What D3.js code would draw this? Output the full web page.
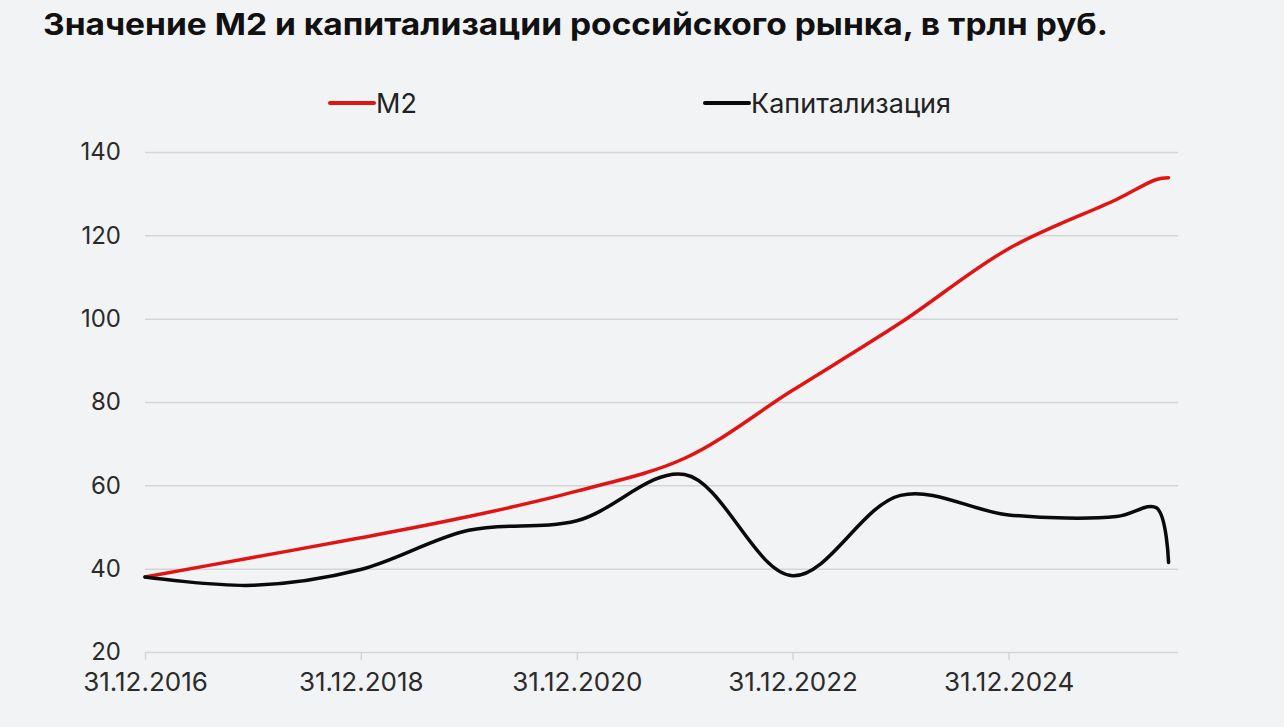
<!DOCTYPE html>
<html>
<head>
<meta charset="utf-8">
<script src="https://cdn.jsdelivr.net/npm/d3@7"></script>
<style>
  html, body { margin: 0; padding: 0; background: #f2f3f5; }
  svg { display: block; font-family: Inter, "Noto Sans", sans-serif; }
</style>
</head>
<body>
<svg id="chart" width="1284" height="727"></svg>
<script>
// year-end points plus two extra points in 2026
var dates = ["2016-12-31", "2017-12-31", "2018-12-31", "2019-12-31", "2020-12-31",
             "2021-12-31", "2022-12-31", "2023-12-31", "2024-12-31", "2025-12-31",
             "2026-05-15", "2026-06-25"];
var m2  = [38, 42.7, 47.4, 52.5, 58.6, 66.5, 82.8, 99, 116.8, 128.6, 133.4, 133.8];
var cap = [38, 36, 39.8, 49.2, 51.5, 62.6, 38.3, 57.6, 52.9, 52.5, 54.6, 41.5];
var yTicks = [20, 40, 60, 80, 100, 120, 140];
var xTicks = ["2016-12-31", "2018-12-31", "2020-12-31", "2022-12-31", "2024-12-31"];
var seriesNames = ["М2", "Капитализация"];

var parse = d3.utcParse("%Y-%m-%d"),
    fmt = d3.utcFormat("%d.%m.%Y");

var svg = d3.select("#chart");

var x = d3.scaleUtc()
    .domain([parse("2016-12-31"), parse("2026-07-27")])
    .range([145, 1178]);
var y = d3.scaleLinear()
    .domain([20, 140])
    .range([652, 152]);

svg.append("text")
    .attr("x", 43).attr("y", 35)
    .attr("font-size", 30).attr("font-weight", 700)
    .attr("fill", "#111")
    .attr("textLength", 1065).attr("lengthAdjust", "spacingAndGlyphs")
    .text("Значение М2 и капитализации российского рынка, в трлн руб.");

// y axis with gridlines
var yAxis = svg.append("g")
    .attr("transform", "translate(145,0)")
    .call(d3.axisLeft(y).tickValues(yTicks).tickSize(-1033).tickPadding(24));
yAxis.select(".domain").remove();
yAxis.selectAll(".tick line").attr("stroke", "#d4d5d8").attr("stroke-width", 1.5);
yAxis.selectAll(".tick text")
    .attr("font-size", 24).attr("fill", "#2b2b2b")
    .attr("font-family", "Inter, sans-serif");

// x axis
var xAxis = svg.append("g")
    .attr("transform", "translate(0,652)")
    .call(d3.axisBottom(x).tickValues(xTicks.map(parse)).tickFormat(fmt)
          .tickSize(8).tickPadding(13));
xAxis.select(".domain").remove();
xAxis.selectAll(".tick line").attr("stroke", "#d4d5d8").attr("stroke-width", 1.5);
xAxis.selectAll(".tick text")
    .attr("font-size", 26).attr("fill", "#2b2b2b")
    .attr("font-family", "Inter, sans-serif");

var line = function(vals) {
    return d3.line()
        .x(function(d, i) { return x(parse(dates[i])); })
        .y(function(d) { return y(d); })
        .curve(d3.curveCatmullRom.alpha(0.5))(vals);
};

svg.append("path")
    .attr("d", line(m2))
    .attr("fill", "none").attr("stroke", "#e11414")
    .attr("stroke-width", 3.5).attr("stroke-linecap", "round");

svg.append("path")
    .attr("d", line(cap))
    .attr("fill", "none").attr("stroke", "#0a0a0a")
    .attr("stroke-width", 3.5).attr("stroke-linecap", "round");

// legend
var legend = [{name: seriesNames[0], color: "#e11414", x: 330},
              {name: seriesNames[1], color: "#0a0a0a", x: 705}];
var lg = svg.selectAll(".legend").data(legend).enter().append("g")
    .attr("class", "legend")
    .attr("transform", function(d) { return "translate(" + d.x + ",103)"; });
lg.append("line")
    .attr("x1", 0).attr("x2", 44)
    .attr("stroke", function(d) { return d.color; })
    .attr("stroke-width", 4).attr("stroke-linecap", "round");
lg.append("text")
    .attr("x", 46).attr("y", 9.5)
    .attr("font-size", 27).attr("fill", "#222")
    .text(function(d) { return d.name; });
</script>
</body>
</html>
